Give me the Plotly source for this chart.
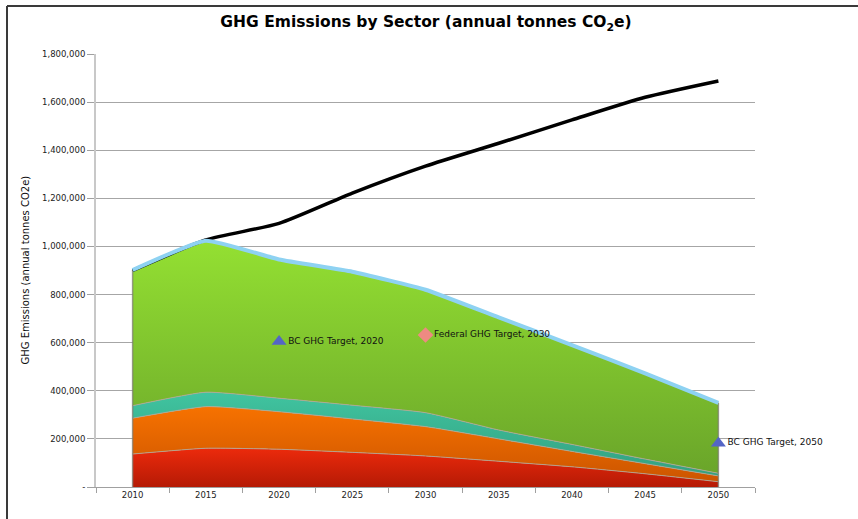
import plotly.graph_objects as go

# ---------------- data ----------------
years = [2010, 2015, 2020, 2025, 2030, 2035, 2040, 2045, 2050]
sector_red = [137000, 161000, 157000, 144000, 129000, 107000, 84000, 55000, 22000]
sector_orange = [149000, 173000, 156000, 139000, 122000, 93000, 64000, 42000, 24000]
sector_teal = [52000, 60000, 56000, 57000, 58000, 37000, 29000, 19000, 11000]
sector_green = [564000, 630000, 577000, 555000, 511000, 468000, 413000, 356000, 293000]
bau_total = [900000, 1027000, 1096000, 1222000, 1334000, 1429000, 1526000, 1620000, 1688000]

target_labels = ["BC GHG Target, 2020", "Federal GHG Target, 2030", "BC GHG Target, 2050"]
target_years = [2020, 2030, 2050]
target_values = [605000, 632000, 182000]

y_tickvals = [0, 200000, 400000, 600000, 800000, 1000000, 1200000, 1400000, 1600000, 1800000]
y_ticktext = ["-", "200,000", "400,000", "600,000", "800,000", "1,000,000",
              "1,200,000", "1,400,000", "1,600,000", "1,800,000"]

FONT = "DejaVu Sans"

fig = go.Figure()

layers = [
    ("Sector 1", sector_red, ["#B51A05", "#EC2A0C"]),
    ("Sector 2", sector_orange, ["#CC5500", "#F77200"]),
    ("Sector 3", sector_teal, ["#33A080", "#40C4A0"]),
    ("Sector 4", sector_green, ["#6AA52A", "#94E032"]),
]
for name, vals, (dark, light) in layers:
    fig.add_trace(go.Scatter(
        x=years, y=vals, name=name, stackgroup="s", mode="lines",
        line=dict(color="rgba(175,165,150,0.9)", width=1, shape="spline", smoothing=0.5),
        fillgradient=dict(type="vertical", colorscale=[[0, dark], [1, light]]),
        hoverinfo="skip",
    ))

totals = [a + b + c + d for a, b, c, d in zip(sector_red, sector_orange, sector_teal, sector_green)]

# vertical edges of the stacked block
fig.add_trace(go.Scatter(
    x=[years[0], years[0], None, years[-1], years[-1]],
    y=[0, totals[0], None, 0, totals[-1]],
    mode="lines", line=dict(color="rgba(120,120,110,0.7)", width=1.5),
    showlegend=False, hoverinfo="skip",
))

# business-as-usual line
fig.add_trace(go.Scatter(
    x=years, y=bau_total, mode="lines", name="BAU",
    line=dict(color="#000000", width=3.5, shape="spline", smoothing=0.6),
    showlegend=False,
))

# top outline of the stack
fig.add_trace(go.Scatter(
    x=years, y=totals, mode="lines", name="Total",
    line=dict(color="#8ED2F2", width=4, shape="spline", smoothing=0.4),
    showlegend=False,
))

# targets
symbols = ["triangle-up", "diamond", "triangle-up"]
colors = ["#5465C6", "#EE8A82", "#5465C6"]
sizes = [13, 12, 13]
for lab, yr, val, sym, col, sz in zip(target_labels, target_years, target_values, symbols, colors, sizes):
    fig.add_trace(go.Scatter(
        x=[yr], y=[val], mode="markers+text", text=[lab], textposition="middle right",
        marker=dict(symbol=sym, color=col, size=sz, line=dict(width=0)),
        textfont=dict(family=FONT, size=9, color="#111111"),
        cliponaxis=False, showlegend=False, name=lab,
    ))

fig.update_layout(
    width=858, height=519,
    margin=dict(l=96, r=103, t=54, b=32),
    paper_bgcolor="white", plot_bgcolor="white",
    showlegend=False,
    title=dict(
        text="GHG Emissions by Sector (annual tonnes CO<sub>2</sub>e)",
        font=dict(family=FONT, size=15.5, color="#000000", weight="bold"),
        x=426 / 858, xanchor="center", xref="container",
        y=1 - 22 / 519, yanchor="middle", yref="container",
    ),
    xaxis=dict(
        range=[2007.5, 2052.5], tickvals=years, ticktext=[str(y) for y in years],
        ticks="", showgrid=False, zeroline=False,
        showline=True, linecolor="#A0A0A0", linewidth=1,
        tickfont=dict(family=FONT, size=8.5, color="#222222"),
        minor=dict(tick0=2007.5, dtick=5, ticks="outside", ticklen=5, tickcolor="#A0A0A0", showgrid=False),
        fixedrange=True,
    ),
    yaxis=dict(
        range=[0, 1800000], tickvals=y_tickvals, ticktext=y_ticktext,
        ticks="outside", ticklen=7, tickcolor="#A0A0A0",
        showgrid=True, gridcolor="#A6A6A6", gridwidth=1,
        zeroline=False, showline=True, linecolor="#C8C8C8", linewidth=2,
        tickfont=dict(family=FONT, size=8.5, color="#222222"),
        fixedrange=True,
    ),
    annotations=[dict(
        text="GHG Emissions (annual tonnes CO2e)", textangle=-90,
        xref="paper", yref="paper", x=(25 - 96) / 659, y=0.5,
        xanchor="center", yanchor="middle", showarrow=False,
        font=dict(family=FONT, size=10, color="#111111"),
    )],
    shapes=[
        dict(type="line", xref="paper", yref="paper",
             x0=(7 - 96) / 659, x1=(870 - 96) / 659, y0=(487 - 6) / 433, y1=(487 - 6) / 433,
             line=dict(color="#3A3A3A", width=2)),
        dict(type="line", xref="paper", yref="paper",
             x0=(7 - 96) / 659, x1=(7 - 96) / 659, y0=(487 - 6) / 433, y1=(487 - 530) / 433,
             line=dict(color="#3A3A3A", width=2)),
    ],
)

fig.write_html(
    "out.html",
    config={"displayModeBar": False},
    post_script="document.body.style.margin='0';document.body.style.overflow='hidden';",
)
